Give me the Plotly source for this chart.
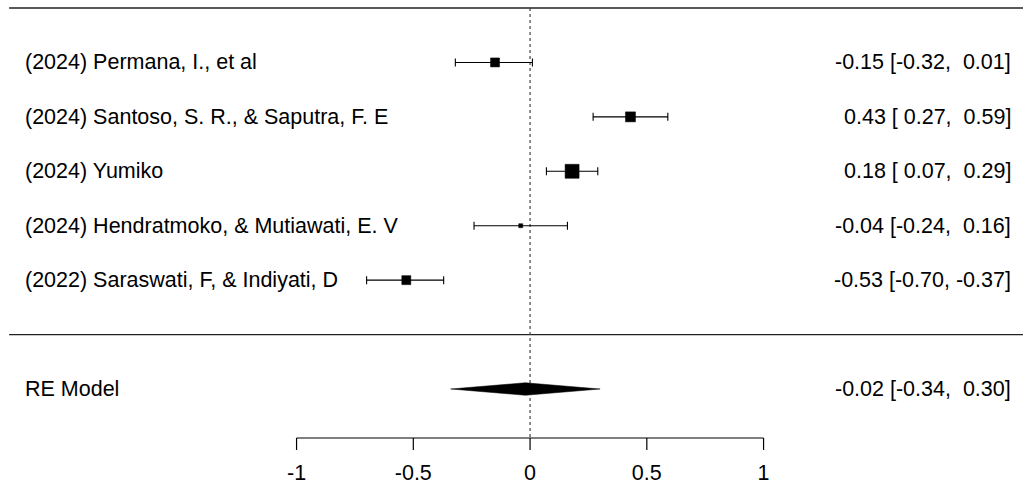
import plotly.graph_objects as go

studies = ["(2024) Permana, I., et al",
           "(2024) Santoso, S. R., & Saputra, F. E",
           "(2024) Yumiko",
           "(2024) Hendratmoko, & Mutiawati, E. V",
           "(2022) Saraswati, F, & Indiyati, D"]
est = [-0.15, 0.43, 0.18, -0.04, -0.53]
lower = [-0.32, 0.27, 0.07, -0.24, -0.70]
upper = [0.01, 0.59, 0.29, 0.16, -0.37]
marker_sizes = [9, 10, 14, 4, 9]
rows = [5, 4, 3, 2, 1]

re_label = "RE Model"
re_est = -0.02
re_lower = -0.34
re_upper = 0.30
re_row = -1

tick_vals = [-1, -0.5, 0, 0.5, 1]
tick_text = ["-1", "-0.5", "0", "0.5", "1"]

FONT = "Liberation Sans, Arial, Helvetica, sans-serif"
FS = 21.5
BLACK = "#000000"

x_left_text = -2.171
x_right_text = 2.069
x_line_start = -2.231
x_line_end = 2.12
top_y = 6
sep_y = 0
axis_y = -1.90
tick_len = 0.22
ticklabel_y = -2.58
diamond_h = 0.115


def fmt(v):
    s = f"{v:.2f}"
    return s if v < 0 else " " + s


fig = go.Figure()

# horizontal rules
for yy in [top_y, sep_y]:
    fig.add_trace(go.Scatter(x=[x_line_start, x_line_end], y=[yy, yy], mode="lines",
                             line=dict(color="#222222", width=1.3), hoverinfo="skip"))

# reference line
fig.add_trace(go.Scatter(x=[0, 0], y=[top_y, axis_y], mode="lines",
                         line=dict(color="#444444", width=1.2, dash="dot"), hoverinfo="skip"))

# study estimates with CI
fig.add_trace(go.Scatter(
    x=est, y=rows, mode="markers",
    marker=dict(symbol="square", size=marker_sizes, color=BLACK, opacity=1,
                line=dict(width=0.5, color=BLACK)),
    error_x=dict(type="data", symmetric=False,
                 array=[u - e for u, e in zip(upper, est)],
                 arrayminus=[e - l for e, l in zip(est, lower)],
                 color=BLACK, thickness=1.1, width=4),
    hoverinfo="skip"))

# diamond for RE model
fig.add_trace(go.Scatter(
    x=[re_lower, re_est, re_upper, re_est, re_lower],
    y=[re_row, re_row + diamond_h, re_row, re_row - diamond_h, re_row],
    mode="lines", fill="toself", fillcolor=BLACK,
    line=dict(color=BLACK, width=0.5), hoverinfo="skip"))

# custom x axis
fig.add_trace(go.Scatter(x=[tick_vals[0], tick_vals[-1]], y=[axis_y, axis_y], mode="lines",
                         line=dict(color=BLACK, width=1.2), hoverinfo="skip"))
for tv in tick_vals:
    fig.add_trace(go.Scatter(x=[tv, tv], y=[axis_y, axis_y - tick_len], mode="lines",
                             line=dict(color=BLACK, width=1.2), hoverinfo="skip"))
fig.add_trace(go.Scatter(x=tick_vals, y=[ticklabel_y] * len(tick_vals), mode="text",
                         text=tick_text, textposition="middle center",
                         textfont=dict(family=FONT, size=FS, color=BLACK), hoverinfo="skip"))

# labels
for name, r in zip(studies + [re_label], rows + [re_row]):
    fig.add_annotation(x=x_left_text, y=r, text=name, showarrow=False, xanchor="left",
                       yanchor="middle", font=dict(family=FONT, size=FS, color=BLACK))
for e, l, u, r in zip(est + [re_est], lower + [re_lower], upper + [re_upper], rows + [re_row]):
    txt = f"{e:.2f} [{fmt(l)}, {fmt(u)}]".replace(" ", "&nbsp;")
    fig.add_annotation(x=x_right_text, y=r, text=txt, showarrow=False, xanchor="right",
                       yanchor="middle", font=dict(family=FONT, size=FS, color=BLACK))

fig.update_layout(
    width=1023, height=486, margin=dict(l=0, r=0, t=0, b=0),
    paper_bgcolor="white", plot_bgcolor="white", showlegend=False,
    xaxis=dict(range=[-2.27, 2.111], visible=False, fixedrange=True),
    yaxis=dict(range=[-2.782, 6.147], visible=False, fixedrange=True),
)

fig.write_html("out.html", config={"displayModeBar": False},
               post_script="document.body.style.margin='0';document.body.style.overflow='hidden';")
